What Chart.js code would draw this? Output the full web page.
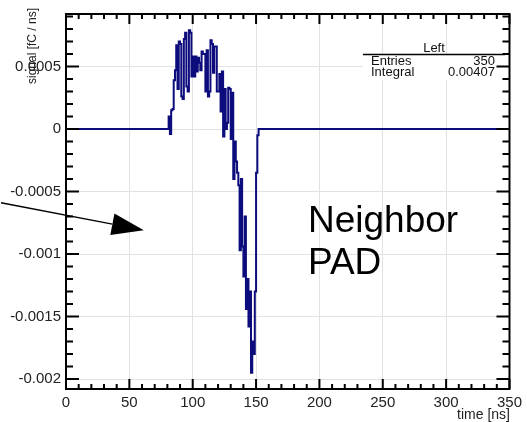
<!DOCTYPE html>
<html>
<head>
<meta charset="utf-8">
<script src="https://cdn.jsdelivr.net/npm/chart.js@4.4.1/dist/chart.umd.min.js"></script>
<style>
  html, body { margin: 0; padding: 0; background: #fff; }
</style>
</head>
<body>
<canvas id="signalChart" width="527" height="422"></canvas>
<script>
// pulse on the "Left" pad, 1 ns bins starting at 80 ns (signal in fC/ns)
const pulseStart = 80;
const pulse = [
  0, 0.00010, -0.00004, 0.00015, 0.00016, 0.00039, 0.00047, 0.00067, 0.00032, 0.00070,
  0.00068, 0.00026, 0.00024, 0.00072, 0.00077, 0.00034, 0.00030, 0.00079, 0.00077, 0.00042,
  0.00058, 0.00042, 0.00058, 0.00046, 0.00057, 0.00053, 0.00047, 0.00062, 0.00060, 0.00060,
  0.00030, 0.00063, 0.00026, 0.00030, 0.00071, 0.00068, 0.00045, 0.00066, 0.00066, 0.00030,
  0.00030, 0.00044, 0.00014, 0.00046, -0.00006, 0.00032, 0.00000, 0.00005, 0.00033, 0.00032,
  -0.00008, 0.00029, -0.00040, -0.00010, -0.00026, -0.00035, -0.00045, -0.00097, -0.00040, -0.00094,
  -0.00118, -0.00070, -0.00144, -0.00120, -0.00158, -0.00130, -0.00195, -0.00170, -0.00180, -0.00130,
  -0.00035, -0.00005, 0
];

const xRange = [0, 350];
const yRange = [-0.00208, 0.00092];
const xTicks = [0, 50, 100, 150, 200, 250, 300, 350];
const yTicks = [-0.002, -0.0015, -0.001, -0.0005, 0, 0.0005];
const xMinor = 10, yMinor = 0.0001;

const statsTitle = 'Left';
const statsRows = [['Entries', '350'], ['Integral', '0.00407']];

const noteText = ['Neighbor', 'PAD'];
const arrowFrom = { x: -51.3, y: -0.00059 };
const arrowTo = { x: 61.4, y: -0.00081 };

const FONT = '"Liberation Sans", Arial, sans-serif';

const points = [{ x: xRange[0], y: 0 }];
pulse.forEach((v, i) => points.push({ x: pulseStart + i + 0.5, y: v }));
points.push({ x: xRange[1], y: 0 });

// ROOT-like frame with ticks pointing into the pad, plus titles, stats box and note
const padDecor = {
  id: 'padDecor',
  afterDraw(chart) {
    const { ctx, chartArea: a, scales: { x, y } } = chart;
    ctx.save();

    // stats box
    ctx.fillStyle = '#fff';
    ctx.fillRect(363, 55, 142, 25);
    ctx.strokeStyle = '#000';
    ctx.lineWidth = 1.5;
    ctx.beginPath();
    ctx.moveTo(363, 54.5); ctx.lineTo(505, 54.5);
    ctx.stroke();
    ctx.fillStyle = '#111';
    ctx.font = '13px ' + FONT;
    ctx.textBaseline = 'alphabetic';
    ctx.textAlign = 'center';
    ctx.fillText(statsTitle, 434, 52);
    statsRows.forEach((r, i) => {
      ctx.textAlign = 'left';
      ctx.fillText(r[0], 371, 65 + i * 11);
      ctx.textAlign = 'right';
      ctx.fillText(r[1], 495, 65 + i * 11);
    });

    // frame and ticks
    ctx.strokeStyle = '#000';
    ctx.lineWidth = 2;
    ctx.beginPath();
    for (let k = Math.round(xRange[0] / xMinor); k * xMinor <= xRange[1]; k++) {
      const px = x.getPixelForValue(k * xMinor);
      const len = k % 5 === 0 ? 10 : 5;
      ctx.moveTo(px, a.bottom); ctx.lineTo(px, a.bottom - len);
      ctx.moveTo(px, a.top); ctx.lineTo(px, a.top + len);
    }
    for (let k = Math.ceil(yRange[0] / yMinor); k * yMinor <= yRange[1]; k++) {
      const py = y.getPixelForValue(k * yMinor);
      const len = k % 5 === 0 ? 13 : 7;
      ctx.moveTo(a.left, py); ctx.lineTo(a.left + len, py);
      ctx.moveTo(a.right, py); ctx.lineTo(a.right - len, py);
    }
    ctx.stroke();
    ctx.strokeRect(a.left, a.top, a.right - a.left, a.bottom - a.top);

    // axis titles
    ctx.fillStyle = '#222';
    ctx.font = '14px ' + FONT;
    ctx.textAlign = 'right';
    ctx.textBaseline = 'middle';
    ctx.fillText('time [ns]', 510, 415);
    ctx.save();
    ctx.translate(33, 8);
    ctx.rotate(-Math.PI / 2);
    ctx.font = '12px ' + FONT;
    ctx.fillText('signal [fC / ns]', 0, 0);
    ctx.restore();

    // arrow pointing at the pad
    const x0 = x.getPixelForValue(arrowFrom.x), y0 = y.getPixelForValue(arrowFrom.y);
    const x1 = x.getPixelForValue(arrowTo.x), y1 = y.getPixelForValue(arrowTo.y);
    const ang = Math.atan2(y1 - y0, x1 - x0);
    const hl = 32, hw = 11;
    const bx = x1 - hl * Math.cos(ang), by = y1 - hl * Math.sin(ang);
    ctx.lineWidth = 1.3;
    ctx.beginPath();
    ctx.moveTo(x0, y0); ctx.lineTo(bx, by);
    ctx.stroke();
    ctx.fillStyle = '#000';
    ctx.beginPath();
    ctx.moveTo(x1, y1);
    ctx.lineTo(bx - hw * Math.sin(ang), by + hw * Math.cos(ang));
    ctx.lineTo(bx + hw * Math.sin(ang), by - hw * Math.cos(ang));
    ctx.closePath();
    ctx.fill();

    ctx.font = '37px ' + FONT;
    ctx.textAlign = 'left';
    ctx.textBaseline = 'alphabetic';
    ctx.fillText(noteText[0], 308, 232);
    ctx.fillText(noteText[1], 308, 274);

    ctx.restore();
  }
};

new Chart(document.getElementById('signalChart'), {
  type: 'line',
  data: {
    datasets: [{
      data: points,
      borderColor: '#0c0c7c',
      borderWidth: 2,
      pointRadius: 0,
      stepped: 'middle',
      fill: false
    }]
  },
  options: {
    responsive: false,
    animation: false,
    layout: { padding: { top: 12, right: 11, left: 0, bottom: 0 } },
    plugins: { legend: { display: false }, tooltip: { enabled: false } },
    scales: {
      x: {
        type: 'linear',
        min: xRange[0],
        max: xRange[1],
        afterBuildTicks: s => { s.ticks = xTicks.map(v => ({ value: v })); },
        afterFit: s => { s.height = 33; },
        border: { display: false },
        grid: { color: '#e2e2e2', drawTicks: false },
        ticks: { padding: 5, maxRotation: 0, color: '#222', font: { size: 15, family: FONT } }
      },
      y: {
        min: yRange[0],
        max: yRange[1],
        afterBuildTicks: s => { s.ticks = yTicks.map(v => ({ value: v })); },
        afterFit: s => { s.width = 66; },
        border: { display: false },
        grid: { color: '#e2e2e2', drawTicks: false },
        ticks: {
          padding: 5,
          color: '#222',
          font: { size: 15, family: FONT },
          callback: v => String(+v.toFixed(4))
        }
      }
    }
  },
  plugins: [padDecor]
});
</script>
</body>
</html>
